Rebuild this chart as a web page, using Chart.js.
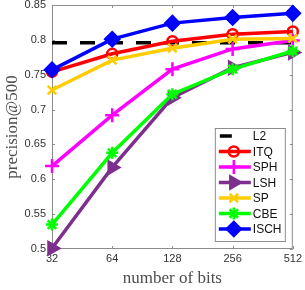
<!DOCTYPE html>
<html>
<head>
<meta charset="utf-8">
<script src="https://cdn.jsdelivr.net/npm/chart.js@4.4.1/dist/chart.umd.min.js"></script>
<style>
html, body { margin: 0; padding: 0; background: #fff; }
#wrap { width: 305px; height: 290px; }
</style>
</head>
<body>
<div id="wrap"><canvas id="chart"></canvas></div>
<script>
// data
const bits = ["32", "64", "128", "256", "512"];
const yTicks = [0.5, 0.55, 0.6, 0.65, 0.7, 0.75, 0.8, 0.85];
const yTickLabels = ["0.5", "0.55", "0.6", "0.65", "0.7", "0.75", "0.8", "0.85"];
const l2 = [0.796, 0.796, 0.796, 0.796, 0.796];
const itq = [0.754, 0.780, 0.798, 0.808, 0.812];
const sph = [0.619, 0.692, 0.758, 0.787, 0.799];
const lsh = [0.501, 0.617, 0.717, 0.760, 0.782];
const sp = [0.728, 0.771, 0.788, 0.801, 0.802];
const cbe = [0.535, 0.638, 0.722, 0.758, 0.784];
const isch = [0.757, 0.801, 0.824, 0.832, 0.838];

const tickFont = { family: "'Liberation Sans', Arial, sans-serif", size: 11 };
const titleFont = { family: "'Liberation Serif', 'Times New Roman', serif", size: 17 };

function series(label, data, color, style, extra) {
    return Object.assign({
        label: label,
        data: data,
        borderColor: color,
        backgroundColor: color,
        borderWidth: 3.5,
        pointStyle: style,
        pointRadius: 6,
        pointBorderWidth: 2.5,
        pointBorderColor: color,
        pointBackgroundColor: color,
        clip: false,
        tension: 0
    }, extra || {});
}

const datasets = [
    series("L2", l2, "#000000", false, { borderDash: [15, 13], pointRadius: 0, order: 7 }),
    series("ITQ", itq, "#ff0000", "circle", { pointBackgroundColor: "rgba(0,0,0,0)", pointRadius: 5, order: 6 }),
    series("SPH", sph, "#ff00ff", "cross", { pointRadius: 7, order: 5 }),
    series("LSH", lsh, "#7e2f8e", "triangle", { pointRotation: 90, pointRadius: 7, order: 4 }),
    series("SP", sp, "#ffcc00", "crossRot", { pointRadius: 6, order: 3 }),
    series("CBE", cbe, "#00ff00", "star", { pointRadius: 6, order: 2 }),
    series("ISCH", isch, "#0000ff", "rectRot", { pointRadius: 7, order: 1 })
];

// axes box with inward tick marks, like the original figure
const frame = {
    id: "frame",
    beforeDatasetsDraw(chart) {
        const ctx = chart.ctx;
        const a = chart.chartArea;
        const xs = chart.scales.x, ys = chart.scales.y;
        ctx.save();
        ctx.strokeStyle = "#8c8c8c";
        ctx.lineWidth = 1;
        ctx.strokeRect(a.left + 0.5, a.top + 0.5, a.right - a.left - 1, a.bottom - a.top - 1);
        ctx.beginPath();
        ys.ticks.forEach(t => {
            const y = Math.round(ys.getPixelForValue(t.value)) + 0.5;
            ctx.moveTo(a.left, y); ctx.lineTo(a.left + 3, y);
            ctx.moveTo(a.right, y); ctx.lineTo(a.right - 3, y);
        });
        xs.ticks.forEach((t, i) => {
            const x = Math.round(xs.getPixelForTick(i)) + 0.5;
            ctx.moveTo(x, a.bottom); ctx.lineTo(x, a.bottom - 3);
            ctx.moveTo(x, a.top); ctx.lineTo(x, a.top + 3);
        });
        ctx.stroke();
        ctx.restore();
    }
};

// boxed legend in the lower right of the plot
const boxLegend = {
    id: "boxLegend",
    afterDraw(chart) {
        const ctx = chart.ctx;
        const a = chart.chartArea;
        const w = 70, h = 113;
        const left = a.right - 8 - w, top = a.bottom - 8 - h;
        ctx.save();
        ctx.fillStyle = "#ffffff";
        ctx.fillRect(left, top, w, h);
        ctx.strokeStyle = "#8c8c8c";
        ctx.lineWidth = 1;
        ctx.strokeRect(left + 0.5, top + 0.5, w, h);
        ctx.font = "12px 'Liberation Sans', Arial, sans-serif";
        ctx.textBaseline = "middle";
        chart.data.datasets.forEach((ds, i) => {
            const y = top + 8 + i * 15.5;
            ctx.strokeStyle = ds.borderColor;
            ctx.lineWidth = ds.borderWidth;
            ctx.beginPath();
            if (ds.borderDash) {
                ctx.moveTo(left + 5, y); ctx.lineTo(left + 17, y);
            } else {
                ctx.moveTo(left + 4, y); ctx.lineTo(left + 36, y);
            }
            ctx.stroke();
            if (ds.pointStyle) {
                ctx.fillStyle = ds.pointBackgroundColor;
                ctx.strokeStyle = ds.pointBorderColor;
                ctx.lineWidth = ds.pointBorderWidth;
                Chart.helpers.drawPoint(ctx, {
                    pointStyle: ds.pointStyle,
                    radius: ds.pointRadius,
                    rotation: ds.pointRotation || 0,
                    borderWidth: ds.pointBorderWidth
                }, left + 19, y);
            }
            ctx.fillStyle = "#111111";
            ctx.fillText(ds.label, left + 38, y + 1);
        });
        ctx.restore();
    }
};

new Chart(document.getElementById("chart"), {
    type: "line",
    data: { labels: bits, datasets: datasets },
    options: {
        responsive: true,
        maintainAspectRatio: false,
        animation: false,
        layout: { autoPadding: false, padding: { left: 0, right: 10, top: 5, bottom: 0 } },
        plugins: {
            legend: { display: false },
            tooltip: { enabled: false }
        },
        scales: {
            x: {
                type: "category",
                offset: false,
                grid: { display: false, drawTicks: false, tickLength: 0 },
                border: { display: false },
                ticks: { font: tickFont, color: "#333333", padding: 3, maxRotation: 0 },
                title: { display: true, text: "number of bits", font: titleFont, color: "#4d4d4d", padding: { top: 0, bottom: 1 } },
                afterFit: scale => { scale.height = 41; }
            },
            y: {
                min: 0.5,
                max: 0.85,
                grid: { display: false, drawTicks: false, tickLength: 0 },
                border: { display: false },
                afterBuildTicks: scale => { scale.ticks = yTicks.map(v => ({ value: v })); },
                ticks: {
                    font: tickFont,
                    color: "#333333",
                    padding: 6,
                    callback: (value) => yTickLabels[yTicks.findIndex(v => Math.abs(v - value) < 1e-9)]
                },
                title: { display: true, text: "precision@500", font: titleFont, color: "#4d4d4d", padding: { top: 2, bottom: 0 } },
                afterFit: scale => {
                    scale.width = 52;
                    scale.paddingTop = 0;
                    scale.paddingBottom = 0;
                }
            }
        }
    },
    plugins: [frame, boxLegend]
});
</script>
</body>
</html>
